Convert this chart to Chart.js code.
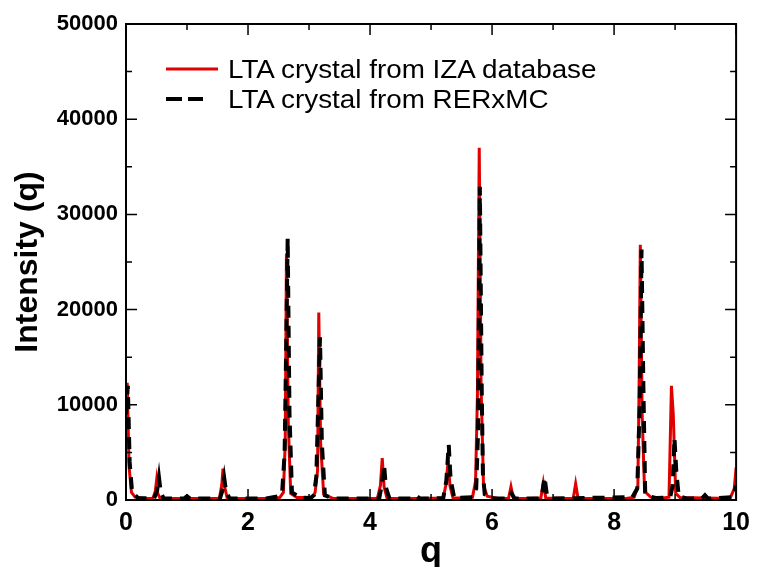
<!DOCTYPE html>
<html>
<head>
<meta charset="utf-8">
<script src="https://cdn.jsdelivr.net/npm/chart.js@4"></script>
<style>
  body { margin: 0; background: #fff; }
  #wrap { position: relative; width: 758px; height: 567px; }
  #legend { position: absolute; left: 163px; top: 54px; font-family: "Liberation Sans", Arial, sans-serif; font-size: 26px; color: #000; }
  #legend .row { display: flex; align-items: center; height: 30px; }
  #legend svg { margin-right: 8px; }
  #legend span { display: inline-block; transform: scaleX(1.07); transform-origin: left center; white-space: nowrap; }
</style>
</head>
<body>
<div id="wrap">
  <canvas id="myChart" width="758" height="567"></canvas>
  <div id="legend"></div>
</div>
<script>
// 系列名
const seriesNames = ['LTA crystal from IZA database', 'LTA crystal from RERxMC'];

// IZA database (赤の実線)
const qIza = [
  0, 0.02, 0.05, 0.09, 0.15, 0.3,
  0.44, 0.48, 0.5, 0.52, 0.56, 1.0,
  1.53, 1.57, 1.59, 1.62, 1.66, 2.3,
  2.52, 2.58, 2.61, 2.63, 2.66, 2.7, 2.8,
  3.05, 3.1, 3.14, 3.16, 3.19, 3.24, 3.4,
  4.12, 4.17, 4.2, 4.23, 4.28, 4.8,
  5.2, 5.25, 5.28, 5.31, 5.36, 5.6,
  5.68, 5.73, 5.76, 5.79, 5.82, 5.86, 5.92, 6.1,
  6.27, 6.31, 6.35, 6.6,
  6.8, 6.84, 6.88, 7.2,
  7.33, 7.37, 7.41, 8.2,
  8.33, 8.39, 8.41, 8.43, 8.46, 8.5, 8.6, 8.8,
  8.9, 8.92, 8.94, 8.97, 9.01, 9.08, 9.9,
  9.97, 10.0
];
const intIza = [
  11500, 12300, 3500, 800, 300, 150,
  150, 900, 2000, 700, 150, 150,
  150, 1600, 3300, 1300, 150, 150,
  250, 800, 6000, 25900, 8000, 700, 250,
  250, 800, 3100, 19700, 6000, 600, 150,
  150, 1500, 4400, 1400, 150, 150,
  200, 1800, 4200, 1500, 200, 200,
  300, 2000, 11000, 37000, 12000, 1500, 400, 150,
  150, 1400, 150, 150,
  200, 1800, 200, 150,
  150, 1700, 150, 150,
  300, 1500, 12000, 26800, 9000, 900, 300, 200,
  300, 6000, 12000, 9000, 700, 250, 150,
  1200, 3400
];

// RERxMC (黒の破線)
const qRer = [
  0, 0.03, 0.06, 0.1, 0.2,
  0.46, 0.51, 0.54, 0.57, 0.62,
  0.95, 1.0, 1.05,
  1.54, 1.58, 1.61, 1.64, 1.7,
  2.3, 2.5, 2.56, 2.6, 2.63, 2.65, 2.68, 2.72, 2.85,
  3.02, 3.08, 3.12, 3.15, 3.18, 3.21, 3.26, 3.4,
  4.15, 4.19, 4.23, 4.26, 4.32,
  4.72, 4.77, 4.82,
  5.2, 5.25, 5.29, 5.32, 5.38,
  5.68, 5.74, 5.77, 5.8, 5.83, 5.85, 5.88, 6.0,
  6.27, 6.32, 6.37,
  6.78, 6.82, 6.86, 6.9, 7.0,
  8.3, 8.38, 8.42, 8.45, 8.48, 8.51, 8.55, 8.7,
  8.92, 8.96, 8.99, 9.02, 9.06, 9.2,
  9.44, 9.49, 9.54,
  9.95, 10.0
];
const intRer = [
  9000, 12000, 4000, 800, 200,
  150, 1000, 2400, 800, 150,
  150, 400, 150,
  150, 1000, 2300, 900, 150,
  150, 400, 900, 4900, 18000, 27500, 9000, 800, 250,
  200, 500, 2500, 10000, 17100, 6000, 500, 150,
  150, 1500, 3700, 1300, 150,
  150, 400, 150,
  200, 2000, 5800, 2200, 200,
  300, 1200, 7000, 32900, 12000, 2800, 600, 150,
  150, 700, 150,
  150, 600, 2400, 500, 150,
  300, 1200, 10000, 26300, 12000, 800, 400, 200,
  300, 1500, 6500, 3000, 400, 150,
  150, 500, 150,
  300, 1500
];

// 目盛り
const xTicks = [0, 2, 4, 6, 8, 10];
const yTicks = [0, 10000, 20000, 30000, 40000, 50000];

const toPoints = (xs, ys) => xs.map((x, i) => ({ x: x, y: ys[i] }));

const fontFamily = '"Liberation Sans", Arial, sans-serif';

// 枠と内向きの目盛り線
const frameTicks = {
  id: 'frameTicks',
  afterDatasetsDraw(chart) {
    const { ctx, chartArea: a, scales: { x, y } } = chart;
    ctx.save();
    ctx.strokeStyle = '#000';
    ctx.lineWidth = 2;
    ctx.strokeRect(a.left, a.top, a.right - a.left, a.bottom - a.top);
    ctx.lineWidth = 1.5;
    ctx.beginPath();
    for (let v = 0; v <= 10; v += 1) {
      const px = x.getPixelForValue(v);
      const len = v % 2 === 0 ? 11 : 6;
      ctx.moveTo(px, a.bottom); ctx.lineTo(px, a.bottom - len);
      ctx.moveTo(px, a.top); ctx.lineTo(px, a.top + len);
    }
    for (let v = 0; v <= 50000; v += 5000) {
      const py = y.getPixelForValue(v);
      const len = v % 10000 === 0 ? 11 : 6;
      ctx.moveTo(a.left, py); ctx.lineTo(a.left + len, py);
      ctx.moveTo(a.right, py); ctx.lineTo(a.right - len, py);
    }
    ctx.stroke();
    ctx.restore();
  }
};

const data = {
  datasets: [{
    label: seriesNames[1],
    data: toPoints(qRer, intRer),
    borderColor: '#000000',
    borderWidth: 4,
    borderDash: [12, 8],
    pointRadius: 0,
    tension: 0
  }, {
    label: seriesNames[0],
    data: toPoints(qIza, intIza),
    borderColor: '#e00000',
    borderWidth: 3,
    pointRadius: 0,
    tension: 0
  }]
};

const config = {
  type: 'line',
  data: data,
  options: {
    responsive: false,
    animation: false,
    parsing: false,
    layout: { padding: { top: 24, right: 20, left: 0, bottom: 0 } },
    plugins: {
      legend: { display: false },
      tooltip: { enabled: false }
    },
    scales: {
      x: {
        type: 'linear',
        min: 0,
        max: 10,
        afterFit: s => { s.height = 67; },
        afterBuildTicks: s => { s.ticks = xTicks.map(v => ({ value: v })); },
        grid: { display: false, drawTicks: false },
        border: { display: false },
        ticks: {
          padding: 8,
          color: '#000',
          maxRotation: 0,
          callback: v => String(v),
          font: { family: fontFamily, size: 25, weight: 'bold' }
        },
        title: {
          display: true,
          text: 'q',
          color: '#000',
          padding: { top: 0, bottom: 0 },
          font: { family: fontFamily, size: 36, weight: 'bold', lineHeight: 0.85 }
        }
      },
      y: {
        min: 0,
        max: 50000,
        afterFit: s => { s.width = 126; },
        afterBuildTicks: s => { s.ticks = yTicks.map(v => ({ value: v })); },
        grid: { display: false, drawTicks: false },
        border: { display: false },
        ticks: {
          padding: 8,
          color: '#000',
          callback: v => String(v),
          font: { family: fontFamily, size: 22, weight: 'bold' }
        },
        title: {
          display: true,
          text: 'Intensity (q)',
          color: '#000',
          padding: { top: 9, bottom: 0 },
          font: { family: fontFamily, size: 32, weight: 'bold' }
        }
      }
    }
  },
  plugins: [frameTicks]
};

const myChart = new Chart(document.getElementById('myChart'), config);

// 凡例（グラフ内の左上）
const legendRows = [
  { text: seriesNames[0], color: '#e00000', width: 3, x2: 55, dash: '' },
  { text: seriesNames[1], color: '#000000', width: 4, x2: 40, dash: '16 6' }
];
const legendEl = document.getElementById('legend');
legendRows.forEach(r => {
  const row = document.createElement('div');
  row.className = 'row';
  row.innerHTML = '<svg width="57" height="10"><line x1="3" y1="5" x2="' + r.x2 + '" y2="5" stroke="' + r.color +
    '" stroke-width="' + r.width + '"' + (r.dash ? ' stroke-dasharray="' + r.dash + '"' : '') + '/></svg>';
  const span = document.createElement('span');
  span.textContent = r.text;
  row.appendChild(span);
  legendEl.appendChild(row);
});
</script>
</body>
</html>
